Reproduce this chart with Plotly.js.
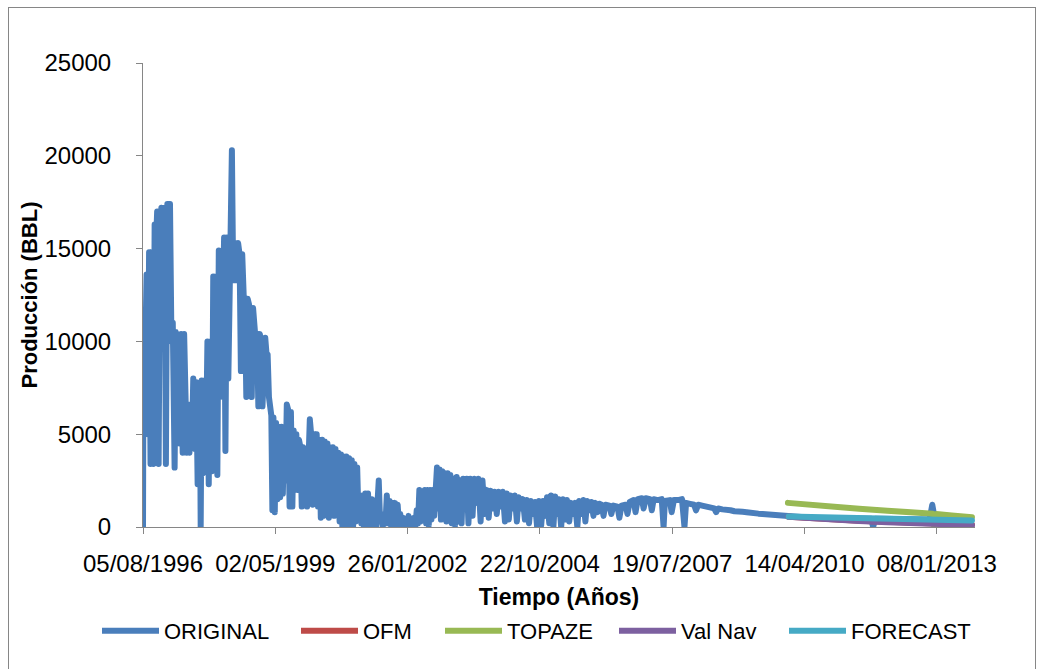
<!DOCTYPE html>
<html><head><meta charset="utf-8">
<script src="https://cdn.plot.ly/plotly-3.0.1.min.js"></script>
<style>
html,body{margin:0;padding:0;background:#fff;}
#wrap{position:relative;width:1042px;height:669px;overflow:hidden;}
#chart{width:1042px;height:669px;}
#frame{position:absolute;left:8px;top:7px;width:1026px;height:680px;border:1px solid #868686;pointer-events:none;}
.scatterlayer path.js-line{stroke-linejoin:round;stroke-linecap:round;}
</style></head>
<body>
<div id="wrap"><div id="chart"></div><div id="frame"></div></div>
<script>
// ORIGINAL production series (dates / BBL)
const origDates = [
"1996-08-05","1996-08-08","1996-08-15","1996-08-22","1996-09-01","1996-09-10","1996-09-20","1996-10-01","1996-10-12","1996-10-22","1996-11-01","1996-11-10","1996-11-20","1996-12-01","1996-12-12","1996-12-22",
"1997-01-05","1997-01-15","1997-01-25","1997-02-05","1997-02-15","1997-02-25","1997-03-08","1997-03-18","1997-04-01","1997-04-10","1997-04-25","1997-05-08","1997-05-20","1997-06-01","1997-06-12","1997-06-22","1997-07-02","1997-07-12","1997-07-22","1997-08-01","1997-08-10","1997-08-20","1997-09-01","1997-09-12","1997-09-22","1997-10-01","1997-10-10","1997-10-15","1997-10-22","1997-11-01","1997-11-12","1997-11-22","1997-12-05","1997-12-15","1997-12-25",
"1998-01-08","1998-01-18","1998-01-28","1998-02-08","1998-02-18","1998-03-01","1998-03-10","1998-03-20","1998-04-01","1998-04-10","1998-04-20","1998-05-01","1998-05-12","1998-05-22","1998-06-01","1998-06-08","1998-06-15","1998-06-25","1998-07-05","1998-07-15","1998-07-25","1998-08-05","1998-08-15","1998-08-25","1998-09-05","1998-09-15","1998-09-25","1998-10-05","1998-10-15","1998-10-25","1998-11-05","1998-11-15","1998-11-25","1998-12-05","1998-12-15","1998-12-25",
"1999-01-05","1999-01-15","1999-01-25","1999-02-05","1999-02-15","1999-02-25","1999-03-05","1999-03-15","1999-03-25","1999-04-02","1999-04-10","1999-04-18","1999-04-28","1999-05-08","1999-05-18","1999-05-28","1999-06-08","1999-06-18","1999-06-28","1999-07-08","1999-07-18","1999-07-28","1999-08-08","1999-08-18","1999-08-28","1999-09-08","1999-09-18","1999-09-28","1999-10-08","1999-10-18","1999-10-28","1999-11-08","1999-11-18","1999-11-28","1999-12-08","1999-12-18","1999-12-28",
"2000-01-08","2000-01-18","2000-01-28","2000-02-08","2000-02-18","2000-02-28","2000-03-10","2000-03-20","2000-03-30","2000-04-10","2000-04-20","2000-04-30","2000-05-10","2000-05-20","2000-05-30","2000-06-10","2000-06-20","2000-06-30","2000-07-10","2000-07-20","2000-07-30","2000-08-10","2000-08-20","2000-08-30","2000-09-10","2000-09-20","2000-09-30","2000-10-10","2000-10-20","2000-10-30","2000-11-10","2000-11-20","2000-11-30","2000-12-10","2000-12-20","2000-12-30",
"2001-01-10","2001-01-20","2001-01-30","2001-02-10","2001-02-20","2001-03-02","2001-03-12","2001-03-22","2001-04-02","2001-04-12","2001-04-22","2001-05-02","2001-05-12","2001-05-22","2001-06-02","2001-06-12","2001-06-22","2001-07-02","2001-07-12","2001-07-22","2001-08-02","2001-08-12","2001-08-22","2001-09-02","2001-09-12","2001-09-22","2001-10-02","2001-10-12","2001-10-22","2001-11-02","2001-11-12","2001-11-22","2001-12-02","2001-12-12","2001-12-22",
"2002-01-02","2002-01-12","2002-01-22","2002-02-02","2002-02-12","2002-02-22","2002-03-05","2002-03-15","2002-03-25","2002-04-05","2002-04-15","2002-04-25","2002-05-05","2002-05-15","2002-05-25","2002-06-05","2002-06-15","2002-06-25","2002-07-05","2002-07-15","2002-07-25","2002-08-05","2002-08-15","2002-08-25","2002-09-05","2002-09-15","2002-09-25","2002-10-05","2002-10-15","2002-10-25","2002-11-05","2002-11-15","2002-11-25","2002-12-05","2002-12-15","2002-12-25",
"2003-01-08","2003-01-20","2003-02-01","2003-02-12","2003-02-25","2003-03-10","2003-03-22","2003-04-05","2003-04-18","2003-05-01","2003-05-15","2003-06-01","2003-06-15","2003-07-01","2003-07-15","2003-08-01","2003-08-15","2003-09-01","2003-09-15","2003-10-01","2003-10-15","2003-11-01","2003-11-15","2003-12-01","2003-12-15",
"2004-01-01","2004-01-15","2004-02-01","2004-02-15","2004-03-01","2004-03-15","2004-04-01","2004-04-15","2004-05-01","2004-05-15","2004-06-01","2004-06-15","2004-07-01","2004-07-15","2004-08-01","2004-08-15","2004-09-01","2004-09-15","2004-10-01","2004-10-15","2004-11-01","2004-11-15","2004-12-01","2004-12-15",
"2005-01-01","2005-01-15","2005-02-01","2005-02-15","2005-03-01","2005-03-15","2005-04-01","2005-04-15","2005-05-01","2005-05-15","2005-06-01","2005-06-15","2005-07-01","2005-07-15","2005-08-01","2005-08-15","2005-09-01","2005-09-15","2005-10-01","2005-10-15","2005-11-01","2005-11-15","2005-12-01","2005-12-15",
"2006-01-01","2006-01-15","2006-02-01","2006-02-15","2006-03-01","2006-04-01","2006-04-15","2006-05-01","2006-06-01","2006-06-15","2006-07-01","2006-08-01","2006-08-15","2006-09-01","2006-10-01","2006-10-15","2006-11-01","2006-12-01","2006-12-15",
"2007-01-01","2007-02-01","2007-02-15","2007-03-01","2007-04-01","2007-05-01","2007-05-15","2007-05-25","2007-06-15","2007-07-01","2007-07-15","2007-08-01","2007-09-01","2007-10-01","2007-10-20","2007-11-01","2007-12-01",
"2008-01-01","2008-01-15","2008-02-01","2008-03-01","2008-04-01","2008-05-01","2008-06-01","2008-06-15","2008-07-01","2008-08-01","2008-09-01","2008-10-01","2008-11-01","2008-12-01",
"2009-01-01","2009-02-01","2009-03-01","2009-04-01","2009-05-01","2009-06-01","2009-07-01","2009-08-01","2009-09-01","2009-10-01","2009-11-01","2009-12-01",
"2010-03-01","2010-06-01","2010-09-01","2010-12-01","2011-03-01","2011-06-01","2011-09-01","2011-09-15","2011-10-01","2012-03-01","2012-09-01","2012-11-15","2012-12-05","2012-12-25","2013-04-01"
];
const origValues = [
0,8000,5000,9300,13600,5000,14800,3400,14800,3400,16300,15000,17000,3400,16500,17200,
14700,17200,3400,17400,11300,17400,10000,11000,3200,10500,10000,4500,10400,4000,10400,6600,4000,6600,4000,6500,4500,8000,4200,7800,2300,7500,7300,0,7900,2900,7900,3000,10000,2300,10000,
3000,13500,7000,13500,2800,14900,7000,14000,12000,15600,4100,15600,8000,15600,15000,20300,15300,13300,15300,13300,15300,14700,8400,14700,12500,12000,7000,12300,12000,11500,7000,11800,10400,10000,10400,6500,
10400,10000,6500,10000,10200,9300,9300,7000,6100,6000,900,5900,800,5600,1500,5400,1600,5400,1800,5000,2500,6600,6300,1100,6200,1100,5200,2000,5000,2000,4700,4300,1100,4300,1500,4200,1100,
4500,5800,5000,1200,5000,1800,5000,1100,4700,500,4700,600,4600,1200,4500,500,4300,1500,4300,600,4200,1200,4000,300,3900,0,3800,200,3800,0,3700,500,3600,0,3400,300,
3200,500,1700,200,1700,0,1800,300,1800,0,600,1500,100,1200,0,1000,2500,300,700,0,600,200,1700,200,1400,100,1300,300,1300,0,1200,100,700,0,500,
100,400,0,600,100,300,0,500,0,900,200,2000,300,1800,500,2000,200,2000,100,2000,400,2000,600,1900,3200,1000,3100,400,3000,1200,2900,300,2900,500,2800,200,
2600,100,2700,300,2500,200,2600,1000,2600,200,2600,600,2600,1300,2600,300,2500,700,2000,500,1950,1000,1900,700,1900,
1100,1900,300,1800,400,1700,1000,1700,300,1600,1000,1500,400,1450,200,1400,700,1350,0,1400,100,1400,600,1600,
200,1700,0,1650,700,1500,0,1500,400,1450,300,1300,700,1300,0,1400,700,1450,300,1400,900,1350,600,1300,
800,1250,1200,600,1200,1150,700,1150,1100,500,1150,1200,700,1350,1450,800,1500,1550,1000,
1550,1500,900,1500,1450,1500,0,1400,1450,1450,800,1450,1450,1500,0,1300,1250,
1200,900,1200,1150,1100,1050,1000,800,1000,950,950,900,850,800,
820,800,800,760,720,700,680,650,620,600,570,550,
520,500,480,470,460,450,440,0,440,430,420,400,1200,400,380
];

// Forecast series
const fcDates = ["2009-12-15","2010-06-01","2011-01-01","2011-06-01","2012-01-01","2012-06-01","2013-01-01","2013-06-01","2013-10-01"];
const ofmValues = [550,470,390,340,280,240,190,150,120];
const valNavValues = [550,460,370,320,260,220,170,130,100];
const forecastValues = [560,540,510,490,460,440,410,390,355];
const topazeDates = ["2009-12-10","2010-06-01","2011-01-01","2011-06-01","2012-01-01","2012-06-01","2012-08-15","2012-10-15","2012-12-10","2012-12-20","2013-01-05","2013-05-01","2013-10-01"];
const topazeValues = [1300,1180,1060,980,880,810,850,770,720,0,700,620,520];

// Axis ticks
const xTickVals = ["1996-08-05","1999-05-02","2002-01-26","2004-10-22","2007-07-19","2010-04-14","2013-01-08"];
const xTickText = ["05/08/1996","02/05/1999","26/01/2002","22/10/2004","19/07/2007","14/04/2010","08/01/2013"];
const yTickVals = [0,5000,10000,15000,20000,25000];

const W = 6;
const traces = [
  {name:'ORIGINAL', legend:'legend',  x:origDates, y:origValues, mode:'lines', line:{color:'#4a7ebb', width:W}},
  {name:'OFM',      legend:'legend2', x:fcDates, y:ofmValues, mode:'lines', line:{color:'#be4b48', width:W}},
  {name:'TOPAZE',   legend:'legend3', x:topazeDates, y:topazeValues, mode:'lines', line:{color:'#98b954', width:W}},
  {name:'Val Nav',  legend:'legend4', x:fcDates, y:valNavValues, mode:'lines', line:{color:'#7d60a0', width:W}},
  {name:'FORECAST', legend:'legend5', x:fcDates, y:forecastValues, mode:'lines', line:{color:'#46aac5', width:W}}
];

const axisCol = '#868686';
function leg(px){
  return {orientation:'h', xref:'container', yref:'container', x:(px-6)/1042, xanchor:'left',
          y:1-631/669, yanchor:'middle', font:{size:22}, itemwidth:57, bgcolor:'rgba(0,0,0,0)'};
}
const layout = {
  width:1042, height:669,
  margin:{l:143, r:67, t:63, b:142},
  paper_bgcolor:'#ffffff', plot_bgcolor:'#ffffff',
  font:{family:'"Liberation Sans", Arial, sans-serif', color:'#000000', size:22},
  showlegend:true,
  legend:leg(103), legend2:leg(302), legend3:leg(446), legend4:leg(620), legend5:leg(790),
  xaxis:{type:'date', range:['1996-08-05','2013-10-24'], tickmode:'array', tickvals:xTickVals, ticktext:xTickText,
         ticks:'outside', ticklen:6, tickcolor:axisCol, tickwidth:1, showline:true, linecolor:axisCol, linewidth:1,
         showgrid:false, zeroline:false, tickfont:{size:24}, ticklabelstandoff:9, fixedrange:true,
         title:{text:'<b>Tiempo (Años)</b>', font:{size:23}, standoff:20}},
  yaxis:{range:[0,25000], tickmode:'array', tickvals:yTickVals, ticktext:yTickVals.map(String),
         ticks:'outside', ticklen:6, tickcolor:axisCol, tickwidth:1, showline:true, linecolor:axisCol, linewidth:1,
         showgrid:false, zeroline:false, tickfont:{size:24}, ticklabelstandoff:20, fixedrange:true,
         title:{text:'<b>Producción (BBL)</b>', font:{size:22}}}
};
Plotly.newPlot('chart', traces, layout, {displayModeBar:false, staticPlot:true});
</script>
</body></html>
